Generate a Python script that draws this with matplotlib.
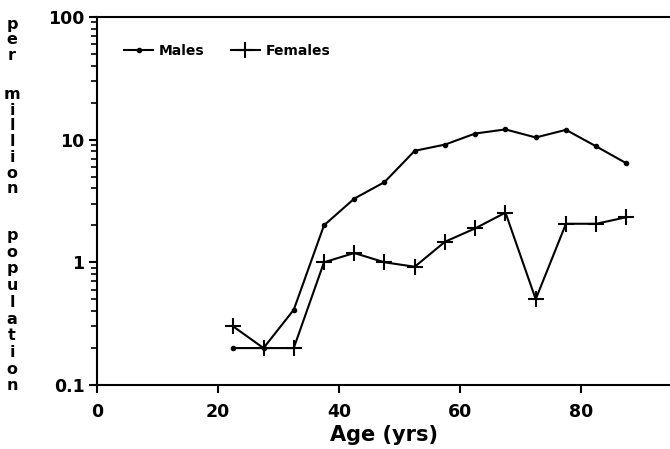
import matplotlib.pyplot as plt
import numpy as np

# edades (punto medio de cada grupo de 5 años)
ages = [22.5, 27.5, 32.5, 37.5, 42.5, 47.5, 52.5, 57.5, 62.5, 67.5, 72.5, 77.5, 82.5, 87.5]
males = [0.2, 0.2, 0.41, 2.0, 3.3, 4.5, 8.1, 9.1, 11.2, 12.1, 10.4, 12.0, 8.8, 6.4]
females = [0.30, 0.2, 0.2, 1.0, 1.19, 1.0, 0.92, 1.47, 1.89, 2.54, 0.50, 2.06, 2.06, 2.33]

xticks = [0, 20, 40, 60, 80]
yticks = [0.1, 1, 10, 100]
ytick_labels = ['0.1', '1', '10', '100']

plt.rcParams['font.family'] = ['DejaVu Sans']
plt.rcParams['font.weight'] = 'bold'

fig = plt.figure(figsize=(6.7, 4.49), dpi=100)
ax = fig.add_axes([0.145, 0.1425, 0.855, 0.82])

ax.plot(ages, males, color='black', lw=1.5, marker='o', ms=3, label='Males')
ax.plot(ages, females, color='black', lw=1.5, marker='+', ms=12, mew=1.5, label='Females')

ax.set_yscale('log')
ax.set_ylim(0.1, 100)
ax.set_xlim(0, 94.7)
ax.set_xticks(xticks)
ax.set_yticks(yticks)
ax.set_yticklabels(ytick_labels)
ax.tick_params(axis='y', which='major', direction='out', length=6, width=1.5,
               labelsize=12.5, pad=3)
ax.tick_params(axis='x', which='major', direction='out', length=6, width=1.5,
               labelsize=12.5, pad=7)
ax.tick_params(axis='y', which='minor', direction='out', length=4, width=1.2)
for lab in ax.get_xticklabels() + ax.get_yticklabels():
    lab.set_fontweight('bold')

ax.spines['right'].set_visible(False)
for s in ['left', 'top', 'bottom']:
    ax.spines[s].set_linewidth(1.5)

ax.set_xlabel('Age (yrs)', fontsize=15, fontweight='bold', labelpad=3)

# etiqueta vertical, letra por letra (posiciones de la línea base en píxeles)
words = ['per', 'million', 'population']
starts = [29, 99, 240]
steps = [15.5, 15.7, 16.7]
for w, y0, st in zip(words, starts, steps):
    for i, ch in enumerate(w):
        fig.text(12 / 670, 1 - (y0 + i * st) / 449, ch, fontsize=11.5, fontweight='bold',
                 ha='center', va='baseline')

leg = ax.legend(loc='upper left', ncol=2, frameon=False, fontsize=10,
                bbox_to_anchor=(0.025, 0.96), handlelength=2.1, columnspacing=1.9,
                handletextpad=0.4)
for t in leg.get_texts():
    t.set_fontweight('bold')

fig.savefig('out.png', dpi=100)
